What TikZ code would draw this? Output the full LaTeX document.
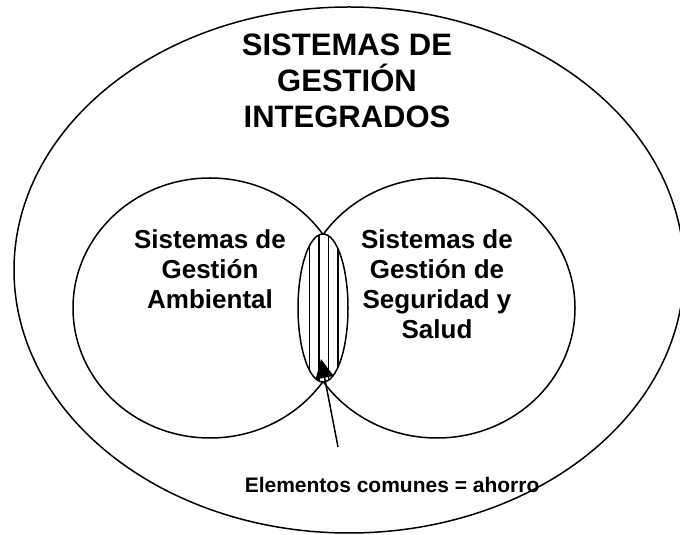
\documentclass[tikz,border=0pt]{standalone}
\usepackage{fontspec}
\setsansfont{Liberation Sans}
\usetikzlibrary{arrows.meta}

\begin{document}
\begin{tikzpicture}[x=1pt,y=1pt,line width=1.5pt,
  texto/.style={font=\sffamily\bfseries\fontsize{26}{30}\selectfont,
    align=center,inner sep=0pt,anchor=north}]

\useasboundingbox (0,0) rectangle (680,535);

% Elipse externa (sistema integrado)
\draw (349,265) ellipse [x radius=335, y radius=263];

% Conjuntos: ambiental y seguridad
\draw (210,227) ellipse [x radius=137, y radius=130];
\draw (437,227) ellipse [x radius=138, y radius=130];

% Zona comun rayada
\filldraw[fill=white] (323,227) ellipse [x radius=25, y radius=74];
\begin{scope}
  \clip (323,227) ellipse [x radius=25, y radius=74];
  \foreach \x in {309.25,318.75,328.25,337.75}
    \draw (\x,150) -- (\x,305);
\end{scope}

% Textos
\node[texto,font=\sffamily\bfseries\fontsize{31}{36}\selectfont] (titulo) at (347,502)
  {SISTEMAS DE\\GESTIÓN\\INTEGRADOS};
\node[texto] (ambiental) at (210,306) {Sistemas de\\Gestión\\Ambiental};
\node[texto] (seguridad) at (437,306) {Sistemas de\\Gestión de\\Seguridad y\\Salud};
\node[font=\sffamily\bfseries\fontsize{21}{25}\selectfont,inner sep=0pt,anchor=base west]
  (comunes) at (244,42) {Elementos comunes = ahorro};

% Flecha hacia los elementos comunes
\coordinate (cola) at (338,88);
\coordinate (punta) at (321,176);
\draw[-{Triangle[length=19pt,width=18pt]}] (cola) -- (punta);

\end{tikzpicture}
\end{document}
